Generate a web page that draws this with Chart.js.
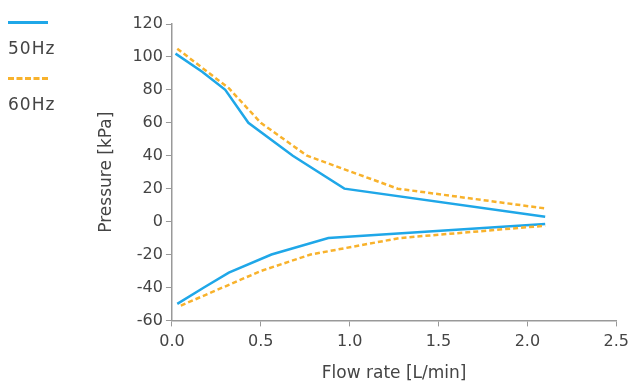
<!DOCTYPE html>
<html>
<head>
<meta charset="utf-8">
<script src="https://cdn.jsdelivr.net/npm/chart.js@4"></script>
<style>
  body { margin: 0; background: #fff; font-family: "DejaVu Sans", sans-serif; }
  #wrap { position: relative; width: 635px; height: 390px; }
  #legend { position: absolute; left: 8px; top: 21px; color: #444; font-size: 17px; letter-spacing: 1px; line-height: 20px; }
  .item { margin-bottom: 19px; }
  .swatch { width: 40px; height: 0; border-top: 3px solid; margin-bottom: 14px; }
</style>
</head>
<body>
<div id="wrap">
  <canvas id="chart" width="635" height="390"></canvas>
  <div id="legend"></div>
</div>
<script>
// series names and colours
const seriesNames = ['50Hz', '60Hz'];
const seriesColors = ['#1fa7e8', '#f8b22c'];

// 50Hz curves (flow rate L/min, pressure kPa)
const hz50PressureX = [0.02, 0.17, 0.3, 0.43, 0.68, 0.97, 2.1];
const hz50PressureY = [102, 91, 80, 60, 40, 20, 3];
const hz50VacuumX = [0.03, 0.18, 0.32, 0.56, 0.88, 2.1];
const hz50VacuumY = [-50, -40, -31, -20, -10, -1.5];

// 60Hz curves
const hz60PressureX = [0.03, 0.32, 0.5, 0.76, 1.27, 2.1];
const hz60PressureY = [105, 81, 60, 40, 20, 8];
const hz60VacuumX = [0.05, 0.5, 0.78, 1.28, 2.1];
const hz60VacuumY = [-51, -30, -20, -10, -2.5];

const xTicks = [0, 0.5, 1, 1.5, 2, 2.5];
const yTicks = [-60, -40, -20, 0, 20, 40, 60, 80, 100, 120];

function pts(xs, ys) {
    return xs.map((x, i) => ({ x: x, y: ys[i] }));
}

const solid = { borderColor: seriesColors[0], borderWidth: 2.5, pointRadius: 0, fill: false, tension: 0 };
const dashed = { borderColor: seriesColors[1], borderWidth: 2.5, borderDash: [5, 3], pointRadius: 0, fill: false, tension: 0 };

const datasets = [
    Object.assign({ label: seriesNames[1], data: pts(hz60PressureX, hz60PressureY) }, dashed),
    Object.assign({ label: seriesNames[1], data: pts(hz60VacuumX, hz60VacuumY) }, dashed),
    Object.assign({ label: seriesNames[0], data: pts(hz50PressureX, hz50PressureY) }, solid),
    Object.assign({ label: seriesNames[0], data: pts(hz50VacuumX, hz50VacuumY) }, solid)
];

// simple legend on the left, line sample above the name
const legend = document.getElementById('legend');
legend.innerHTML = seriesNames.map((name, i) => `
    <div class="item">
        <div class="swatch" style="border-top-color:${seriesColors[i]};border-top-style:${i === 0 ? 'solid' : 'dashed'}"></div>
        <div>${name}</div>
    </div>`).join('');

const axisColor = '#999';
const textColor = '#444';
const tickFont = { family: '"DejaVu Sans", sans-serif', size: 16 };
const titleFont = { family: '"DejaVu Sans", sans-serif', size: 17 };

new Chart(document.getElementById('chart'), {
    type: 'line',
    data: { datasets: datasets },
    options: {
        responsive: false,
        animation: false,
        layout: { padding: { left: 92, top: 24, right: 8, bottom: 2 } },
        plugins: { legend: { display: false }, tooltip: { enabled: false } },
        scales: {
            x: {
                type: 'linear', min: 0, max: 2.5,
                afterBuildTicks: axis => { axis.ticks = xTicks.map(v => ({ value: v })); },
                ticks: { color: textColor, font: tickFont, padding: 6, callback: v => v.toFixed(1), maxRotation: 0 },
                grid: { drawOnChartArea: false, drawTicks: true, tickLength: 6, color: axisColor },
                border: { color: axisColor, width: 1.5 },
                title: { display: true, text: 'Flow rate [L/min]', color: textColor, font: titleFont, padding: { top: 6, bottom: 4 } }
            },
            y: {
                min: -60, max: 120,
                afterBuildTicks: axis => { axis.ticks = yTicks.map(v => ({ value: v })); },
                ticks: { color: textColor, font: tickFont, padding: 3 },
                grid: { drawOnChartArea: false, drawTicks: true, tickLength: 6, color: axisColor },
                border: { color: axisColor, width: 1.5 },
                title: { display: true, text: 'Pressure [kPa]', color: textColor, font: titleFont, padding: { top: 4, bottom: 13 } }
            }
        }
    }
});
</script>
</body>
</html>
